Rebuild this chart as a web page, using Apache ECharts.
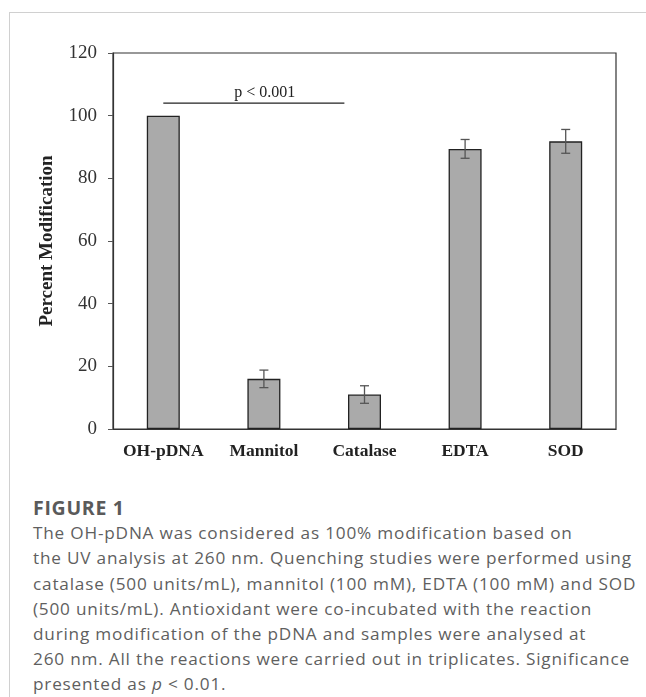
<!DOCTYPE html>
<html>
<head>
<meta charset="utf-8">
<script src="https://cdn.jsdelivr.net/npm/echarts@6/dist/echarts.min.js"></script>
<style>
  html, body { margin: 0; padding: 0; background: #fff; }
  #wrap { position: relative; width: 646px; height: 697px; overflow: hidden; }
  #frame { position: absolute; left: 9px; top: 12px; width: 700px; height: 700px;
           border-left: 1px solid #d0d0d0; border-top: 1px solid #d0d0d0; }
  #chart { position: absolute; left: 0; top: 0; width: 646px; height: 480px; }
  #caption { position: absolute; left: 33px; top: 495px; width: 612px; white-space: nowrap;
             font-family: "Open Sans", Lato, sans-serif; color: #5f5f5f; font-size: 17.2px;
             letter-spacing: 0.8px; line-height: 25.2px; }
  #caption .fig { font-weight: 700; color: #5a5a5a; font-size: 19.5px; letter-spacing: 0.7px; }
</style>
</head>
<body>
<div id="wrap">
  <div id="frame"></div>
  <div id="chart"></div>
  <div id="caption">
    <div class="fig">FIGURE 1</div>
    <div>The OH-pDNA was considered as 100% modification based on<br>
    the UV analysis at 260 nm. Quenching studies were performed using<br>
    catalase (500 units/mL), mannitol (100 mM), EDTA (100 mM) and SOD<br>
    (500 units/mL). Antioxidant were co-incubated with the reaction<br>
    during modification of the pDNA and samples were analysed at<br>
    260 nm. All the reactions were carried out in triplicates. Significance<br>
    presented as <i>p</i> &lt; 0.01.</div>
  </div>
</div>
<script>
const categories = ['OH-pDNA', 'Mannitol', 'Catalase', 'EDTA', 'SOD'];
const values = [100, 16, 11, 89.4, 91.8];
const errors = [0, 2.8, 2.8, 3, 3.8];
const yTicks = { min: 0, max: 120, interval: 20 };
const sigLevel = 104;
const sigLabel = 'p < 0.001';
const sigFrom = 0, sigTo = 2;

const chart = echarts.init(document.getElementById('chart'), null, { renderer: 'canvas' });
const serif = '"Liberation Serif", "DejaVu Serif", serif';

const errData = categories.map((c, i) => [i, values[i] - errors[i], values[i] + errors[i]]);

chart.setOption({
  animation: false,
  grid: { left: 113, right: 30, top: 53, bottom: 51, show: true, borderColor: '#333', borderWidth: 1.2, backgroundColor: 'transparent' },
  xAxis: {
    type: 'category', data: categories,
    axisLine: { lineStyle: { color: '#333', width: 1.2 } },
    axisTick: { show: false },
    axisLabel: { interval: 0, hideOverlap: false, fontFamily: serif, fontWeight: 'bold', fontSize: 17.5, color: '#222', margin: 13 }
  },
  yAxis: {
    type: 'value', min: yTicks.min, max: yTicks.max, interval: yTicks.interval,
    name: 'Percent Modification', nameLocation: 'middle', nameGap: 56,
    nameTextStyle: { fontFamily: serif, fontWeight: 'bold', fontSize: 19, color: '#222' },
    axisLine: { show: true, lineStyle: { color: '#333', width: 1.2 } },
    axisTick: { show: true, length: 5, lineStyle: { color: '#555' } },
    splitLine: { show: false },
    axisLabel: { fontFamily: serif, fontSize: 19, color: '#333', margin: 16 }
  },
  series: [
    {
      type: 'bar', data: values, barWidth: 33,
      itemStyle: { color: '#aaaaaa', borderColor: '#222', borderWidth: 1.3 }
    },
    {
      type: 'custom', data: errData, z: 5,
      renderItem: function (params, api) {
        const x = api.value(0);
        const lo = api.coord([x, api.value(1)]);
        const hi = api.coord([x, api.value(2)]);
        if (api.value(2) - api.value(1) <= 0) return null;
        const hw = 4.5;
        const st = { stroke: '#555', lineWidth: 1.3 };
        return { type: 'group', children: [
          { type: 'line', shape: { x1: lo[0], y1: lo[1], x2: hi[0], y2: hi[1] }, style: st },
          { type: 'line', shape: { x1: lo[0] - hw, y1: lo[1], x2: lo[0] + hw, y2: lo[1] }, style: st },
          { type: 'line', shape: { x1: hi[0] - hw, y1: hi[1], x2: hi[0] + hw, y2: hi[1] }, style: st }
        ]};
      }
    },
    {
      type: 'custom', data: [[sigFrom, sigTo, sigLevel]], z: 6,
      renderItem: function (params, api) {
        const a = api.coord([api.value(0), api.value(2)]);
        const b = api.coord([api.value(1), api.value(2)]);
        const band = api.size([1, 0])[0];
        const x1 = a[0], x2 = b[0] - band * 0.2;
        return { type: 'group', children: [
          { type: 'line', shape: { x1: x1, y1: a[1], x2: x2, y2: a[1] }, style: { stroke: '#222', lineWidth: 1.2 } },
          { type: 'text', x: (x1 + x2) / 2 + 11, y: a[1] - 2,
            style: { text: sigLabel, fontFamily: serif, fontSize: 16, fill: '#222', align: 'center', verticalAlign: 'bottom' } }
        ]};
      }
    }
  ]
});
</script>
</body>
</html>
